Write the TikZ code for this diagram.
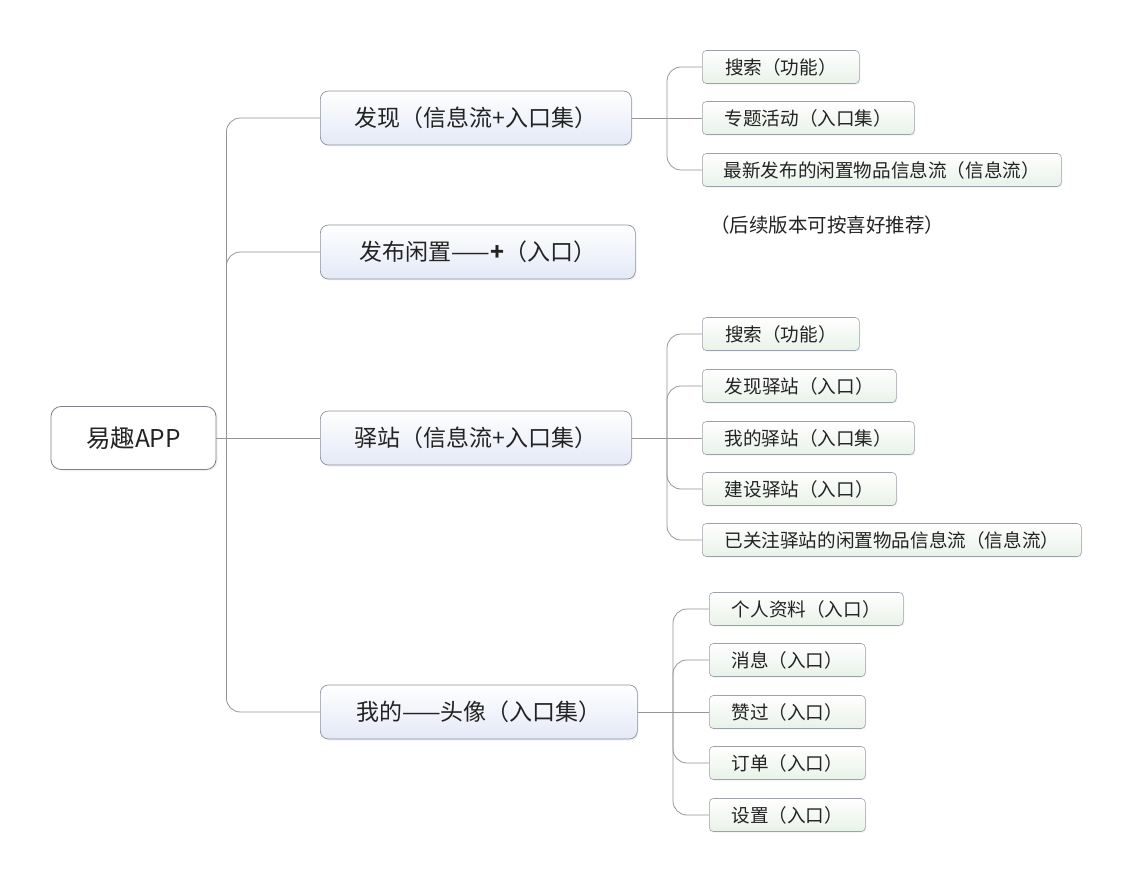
\documentclass[tikz,border=0pt]{standalone}
\usepackage{fontspec}
\setmainfont{Noto Sans CJK SC}
\usetikzlibrary{shadows,calc}
\definecolor{edgec}{RGB}{150,150,150}
\definecolor{boxline}{RGB}{140,145,155}
\definecolor{mainbot}{RGB}{228,233,247}
\definecolor{leafbot}{RGB}{232,242,232}
\definecolor{txt}{RGB}{35,35,35}
\tikzset{
  rootbox/.style={draw=boxline!90!black, line width=0.8pt, rounded corners=10pt, fill=white,
    minimum width=165pt, minimum height=63pt, font=\fontsize{24.5}{27}\selectfont, text=txt,
    drop shadow={opacity=0.12, shadow xshift=1.5pt, shadow yshift=-1.5pt}},
  mainbox/.style={draw=boxline, line width=0.7pt, rounded corners=8pt, top color=white, bottom color=mainbot,
    minimum height=54pt, anchor=west, font=\fontsize{23}{26}\selectfont, text=txt,
    drop shadow={opacity=0.10, shadow xshift=1.2pt, shadow yshift=-1.5pt}},
  leafbox/.style={draw=boxline!85, line width=0.6pt, rounded corners=4pt, top color=white, bottom color=leafbot,
    minimum height=33pt, anchor=west, font=\fontsize{18.6}{21}\selectfont, text=txt,
    drop shadow={opacity=0.10, shadow xshift=1pt, shadow yshift=-1.2pt}},
  conn/.style={draw=edgec, line width=0.8pt},
  curv/.style={conn, rounded corners=14pt},
}
\begin{document}
\begin{tikzpicture}[x=1pt,y=-1pt]
\useasboundingbox (0,0) rectangle (1132,882);
\fill[white] (0,0) rectangle (1132,882);

% root
\node[rootbox] (root) at (133.5,438) {易趣APP};

% main nodes
\node[mainbox, minimum width=311pt] (fx) at (320,118) {发现（信息流+入口集）};
\node[mainbox, minimum width=315pt] (fb) at (320,252) {发布闲置——\textbf{+}（入口）};
\node[mainbox, minimum width=311pt] (yz) at (320,438) {驿站（信息流+入口集）};
\node[mainbox, minimum width=317pt] (wd) at (320,712) {我的——头像（入口集）};

% group 1 leaves
\node[leafbox, minimum width=157pt] (a1) at (702,67) {搜索（功能）};
\node[leafbox, minimum width=212pt] (a2) at (702,118) {专题活动（入口集）};
\node[leafbox, minimum width=359pt] (a3) at (702,170) {最新发布的闲置物品信息流（信息流）};
\node[anchor=west, font=\fontsize{19.5}{22}\selectfont, text=txt, inner sep=0pt] (note) at (710,225) {（后续版本可按喜好推荐）};

% group 2 leaves
\node[leafbox, minimum width=157pt] (b1) at (702,334) {搜索（功能）};
\node[leafbox, minimum width=194pt] (b2) at (702,386) {发现驿站（入口）};
\node[leafbox, minimum width=212pt] (b3) at (702,438) {我的驿站（入口集）};
\node[leafbox, minimum width=194pt] (b4) at (702,489) {建设驿站（入口）};
\node[leafbox, minimum width=379pt] (b5) at (702,540) {已关注驿站的闲置物品信息流（信息流）};

% group 3 leaves
\node[leafbox, minimum width=194pt] (c1) at (709,609) {个人资料（入口）};
\node[leafbox, minimum width=156pt] (c2) at (709,660) {消息（入口）};
\node[leafbox, minimum width=156pt] (c3) at (709,712) {赞过（入口）};
\node[leafbox, minimum width=156pt] (c4) at (709,763) {订单（入口）};
\node[leafbox, minimum width=156pt] (c5) at (709,815) {设置（入口）};

% trunk coordinates
\coordinate (t0) at ($(root.east)+(10,0)$);
\coordinate (t1) at (667,118);
\coordinate (t2) at (667,438);
\coordinate (t3) at (673,712);

% root connectors
\draw[conn] (root.east) -- (yz.west);
\draw[curv] (t0) |- (fx.west);
\draw[curv] (t0) |- (fb.west);
\draw[curv] (t0) |- (wd.west);

% group 1
\draw[conn] (fx.east) -- (a2.west);
\draw[curv] (t1) |- (a1.west);
\draw[curv] (t1) |- (a3.west);

% group 2
\draw[conn] (yz.east) -- (b3.west);
\draw[curv] (t2) |- (b1.west);
\draw[curv] (t2) |- (b2.west);
\draw[curv] (t2) |- (b4.west);
\draw[curv] (t2) |- (b5.west);

% group 3
\draw[conn] (wd.east) -- (c3.west);
\draw[curv] (t3) |- (c1.west);
\draw[curv] (t3) |- (c2.west);
\draw[curv] (t3) |- (c4.west);
\draw[curv] (t3) |- (c5.west);
\end{tikzpicture}
\end{document}
